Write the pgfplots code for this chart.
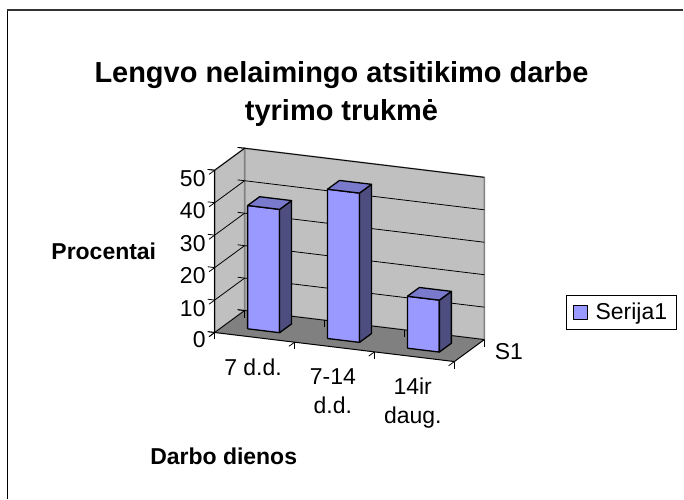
\documentclass[border=0pt]{standalone}
\usepackage{pgfplots}
\pgfplotsset{compat=1.18}
\usepackage{fontspec}
\setmainfont{Liberation Sans}
\definecolor{barfront}{HTML}{9999FF}
\definecolor{barside}{HTML}{4D4D80}
\definecolor{bartop}{HTML}{7A7ACC}
\definecolor{wallc}{HTML}{C0C0C0}
\definecolor{floorc}{HTML}{808080}
\definecolor{edgec}{HTML}{808080}
\newcommand\lab{\fontsize{23bp}{29bp}\selectfont}
\newcommand\ttl{\fontsize{29bp}{38bp}\selectfont\bfseries}
\pgfplotsset{
  face/.style={no marks, line width=1.3bp, draw=black, line join=round, forget plot},
}
\begin{document}
\begin{tikzpicture}[x=1bp,y=1bp]
\path (0,0) rectangle (684,500);
\draw[black, line width=1bp] (7.5,0) -- (7.5,490);
\draw[black!80, line width=2bp] (7,490) -- (684,490);
\node[font=\ttl, align=center] at (342,406) {Lengvo nelaimingo atsitikimo darbe\\tyrimo trukmė};
\node[font=\lab\bfseries, anchor=base west] at (48,240.5) {Procentai};
\node[font=\lab\bfseries, anchor=base west] at (147,35) {Darbo dienos};
\coordinate (leg) at (567,205);
\begin{axis}[
  set layers=standard,
  at={(215bp,167bp)}, anchor=origin,
  x={(80bp,-9.7bp)}, y={(30bp,22bp)}, z={(0bp,3.25bp)},
  xmin=0, xmax=3, ymin=0, ymax=1, zmin=0, zmax=50,
  clip=false,
  axis line style={draw=none},
  tick align=outside,
  xtick pos=left, ytick pos=left, ztick pos=left,
  xtick={0.5,1.5,2.5},
  xticklabels={7 d.d.,{7-14\\d.d.},{14ir\\daug.}},
  minor xtick={0,1,2,3},
  ytick={0.5}, yticklabels={S1},
  minor ytick={0,1},
  ztick={0,10,20,30,40,50},
  zmajorgrids,
  major grid style={black, line width=0.8bp},
  every major x tick/.append style={draw=none},
  every major y tick/.append style={draw=none},
  tick style={black, line width=0.8bp},
  major tick length=7bp, minor tick length=7bp,
  ticklabel style={font=\lab, /pgf/number format/assume math mode=true},
  xticklabel style={align=center, anchor=north, yshift=-14bp, xshift=4bp},
  yticklabel style={anchor=west, xshift=15bp},
  legend style={at={(leg)}, anchor=north west, draw=black, line width=1bp, font=\lab, inner sep=6bp,
    nodes={inner xsep=3bp}, /tikz/every odd column/.append style={column sep=5bp}},
  legend image code/.code={\draw[fill=barfront, draw=black, line width=1bp] (0bp,-7bp) rectangle (14bp,7bp);},
]
% walls and floor
\addplot3[on layer=axis background, fill=wallc, draw=edgec, line width=1.5bp, no marks, forget plot]
  coordinates {(0,1,0) (3,1,0) (3,1,50) (0,1,50) (0,1,0)};
\addplot3[on layer=axis background, fill=wallc, draw=edgec, line width=1.5bp, no marks, forget plot]
  coordinates {(0,0,0) (0,1,0) (0,1,50) (0,0,50) (0,0,0)};
\addplot3[on layer=axis background, fill=floorc, draw=none, no marks, forget plot]
  coordinates {(0,0,0) (3,0,0) (3,1,0) (0,1,0) (0,0,0)};
% bar 1 : 7 d.d. = 38
\addplot3[face, fill=barfront, forget plot=false] coordinates {(0.3,0.3,0) (0.7,0.3,0) (0.7,0.3,38) (0.3,0.3,38) (0.3,0.3,0)};
\addlegendentry{Serija1}
\addplot3[face, fill=barside] coordinates {(0.7,0.3,0) (0.7,0.7,0) (0.7,0.7,38) (0.7,0.3,38) (0.7,0.3,0)};
\addplot3[face, fill=bartop] coordinates {(0.3,0.3,38) (0.7,0.3,38) (0.7,0.7,38) (0.3,0.7,38) (0.3,0.3,38)};
% bar 2 : 7-14 d.d. = 46
\addplot3[face, fill=barfront] coordinates {(1.3,0.3,0) (1.7,0.3,0) (1.7,0.3,46) (1.3,0.3,46) (1.3,0.3,0)};
\addplot3[face, fill=barside] coordinates {(1.7,0.3,0) (1.7,0.7,0) (1.7,0.7,46) (1.7,0.3,46) (1.7,0.3,0)};
\addplot3[face, fill=bartop] coordinates {(1.3,0.3,46) (1.7,0.3,46) (1.7,0.7,46) (1.3,0.7,46) (1.3,0.3,46)};
% bar 3 : 14 ir daug. = 16
\addplot3[face, fill=barfront] coordinates {(2.3,0.3,0) (2.7,0.3,0) (2.7,0.3,16) (2.3,0.3,16) (2.3,0.3,0)};
\addplot3[face, fill=barside] coordinates {(2.7,0.3,0) (2.7,0.7,0) (2.7,0.7,16) (2.7,0.3,16) (2.7,0.3,0)};
\addplot3[face, fill=bartop] coordinates {(2.3,0.3,16) (2.7,0.3,16) (2.7,0.7,16) (2.3,0.7,16) (2.3,0.3,16)};
% front axis lines
\addplot3[no marks, black, line width=1bp, forget plot] coordinates {(0,0,50) (0,0,0) (3,0,0) (3,1,0)};
\end{axis}
\end{tikzpicture}
\end{document}
